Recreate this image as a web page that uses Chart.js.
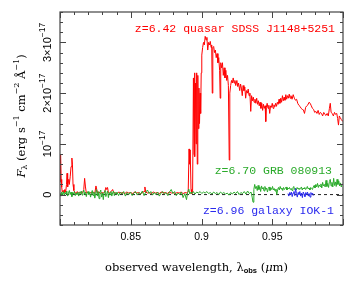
<!DOCTYPE html>
<html>
<head>
<meta charset="utf-8">
<script src="https://cdn.jsdelivr.net/npm/chart.js@4/dist/chart.umd.min.js"></script>
<style>
  html, body { margin: 0; padding: 0; background: #fff; }
  canvas { display: block; }
</style>
</head>
<body>
<canvas id="spectra" width="356" height="285"></canvas>
<script>
// ========== DATA (flux in units of 1e-17 erg s^-1 cm^-2 A^-1) ==========

// z=6.42 quasar SDSS J1148+5251
const qsoLambda = [
  0.8000, 0.8004, 0.8008, 0.8012, 0.8016, 0.8022, 0.8028, 0.8034, 0.8040, 0.8046,
  0.8050, 0.8054, 0.8058, 0.8062, 0.8066, 0.8072, 0.8078, 0.8084, 0.8088, 0.8092,
  0.8098, 0.8106, 0.8114, 0.8122, 0.8130, 0.8140, 0.8150, 0.8160, 0.8168, 0.8174,
  0.8180, 0.8186, 0.8196, 0.8206, 0.8216, 0.8226, 0.8236, 0.8246, 0.8254, 0.8260,
  0.8266, 0.8276, 0.8286, 0.8296, 0.8306, 0.8316, 0.8324, 0.8330, 0.8336, 0.8342,
  0.8350, 0.8362, 0.8372, 0.8380, 0.8392, 0.8404, 0.8416, 0.8430, 0.8444, 0.8458,
  0.8472, 0.8486, 0.8500, 0.8514, 0.8528, 0.8542, 0.8556, 0.8570, 0.8584, 0.8594,
  0.8600, 0.8606, 0.8618, 0.8632, 0.8646, 0.8660, 0.8674, 0.8688, 0.8702, 0.8716,
  0.8730, 0.8744, 0.8758, 0.8772, 0.8786, 0.8800, 0.8814, 0.8828, 0.8842, 0.8856,
  0.8870, 0.8884, 0.8898, 0.8906, 0.8912, 0.8916, 0.8920, 0.8926, 0.8930, 0.8937,
  0.8943, 0.8947, 0.8950, 0.8954, 0.8958, 0.8962, 0.8966, 0.8970, 0.8974, 0.8978,
  0.8982, 0.8986, 0.8990, 0.8994, 0.8998, 0.9002, 0.9008, 0.9014, 0.9020, 0.9026,
  0.9032, 0.9038, 0.9044, 0.9050, 0.9056, 0.9062, 0.9068, 0.9072, 0.9076, 0.9080,
  0.9086, 0.9092, 0.9098, 0.9104, 0.9110, 0.9116, 0.9122, 0.9128, 0.9132, 0.9136,
  0.9142, 0.9148, 0.9154, 0.9160, 0.9166, 0.9172, 0.9178, 0.9184, 0.9190, 0.9196,
  0.9200, 0.9206, 0.9212, 0.9218, 0.9224, 0.9230, 0.9236, 0.9242, 0.9250, 0.9256,
  0.9262, 0.9270, 0.9276, 0.9282, 0.9288, 0.9294, 0.9300, 0.9306, 0.9312, 0.9318,
  0.9324, 0.9330, 0.9336, 0.9342, 0.9348, 0.9354, 0.9360, 0.9366, 0.9372, 0.9378,
  0.9384, 0.9390, 0.9396, 0.9402, 0.9408, 0.9414, 0.9420, 0.9426, 0.9432, 0.9438,
  0.9444, 0.9450, 0.9454, 0.9458, 0.9464, 0.9470, 0.9476, 0.9482, 0.9488, 0.9494,
  0.9500, 0.9506, 0.9512, 0.9518, 0.9524, 0.9530, 0.9536, 0.9542, 0.9548, 0.9554,
  0.9560, 0.9566, 0.9572, 0.9578, 0.9584, 0.9590, 0.9596, 0.9602, 0.9608, 0.9614,
  0.9620, 0.9626, 0.9632, 0.9640, 0.9648, 0.9656, 0.9664, 0.9672, 0.9680, 0.9688,
  0.9696, 0.9704, 0.9712, 0.9720, 0.9728, 0.9736, 0.9744, 0.9752, 0.9760, 0.9768,
  0.9776, 0.9784, 0.9792, 0.9800, 0.9808, 0.9816, 0.9824, 0.9832, 0.9840, 0.9848,
  0.9856, 0.9864, 0.9872, 0.9880, 0.9888, 0.9896, 0.9904, 0.9910, 0.9916, 0.9924,
  0.9932, 0.9940, 0.9948, 0.9956, 0.9962, 0.9968, 0.9974, 0.9980, 0.9988, 0.9996,
  1.0000
];
const qsoFlux = [
  0.25, 0.80, 0.30, 0.15, 0.05, 0.08, 0.03, 0.10, 0.05, 0.20,
  0.42, 0.15, 0.25, 0.30, 0.20, 0.35, 0.55, 0.72, 0.60, 0.20,
  0.08, 0.04, 0.02, 0.06, 0.03, 0.05, 0.02, 0.04, 0.10, 0.32,
  0.15, 0.03, 0.05, 0.02, 0.04, 0.03, 0.05, 0.02, 0.17, 0.10,
  0.03, 0.05, 0.02, 0.04, 0.03, 0.05, 0.14, 0.10, 0.14, 0.04,
  0.03, 0.06, 0.10, 0.04, 0.03, 0.02, 0.05, 0.03, 0.04, 0.02,
  0.05, 0.03, 0.04, 0.02, 0.05, 0.03, 0.04, 0.02, 0.04, 0.06,
  0.15, 0.05, 0.03, 0.04, 0.02, 0.05, 0.03, 0.04, 0.02, 0.05,
  0.03, 0.04, 0.02, 0.05, 0.03, 0.04, 0.02, 0.04, 0.03, 0.05,
  0.02, 0.04, 0.03, 0.05, 0.90, 0.60, 0.88, 0.10, 0.02, 0.03,
  2.30, 0.80, 2.40, 0.75, 2.20, 1.00, 2.40, 0.60, 2.35, 1.30,
  2.10, 1.40, 2.00, 1.60, 2.40, 2.75, 2.90, 3.00, 2.95, 3.12,
  3.05, 3.10, 2.85, 3.00, 2.95, 3.02, 2.90, 2.95, 2.00, 2.90,
  2.92, 2.80, 2.85, 2.70, 2.78, 2.60, 2.70, 2.45, 1.90, 2.60,
  2.50, 2.60, 2.35, 2.50, 2.30, 2.45, 2.25, 2.35, 2.15, 0.68,
  2.00, 2.15, 2.25, 2.20, 2.30, 2.20, 2.25, 2.15, 2.25, 2.13,
  2.20, 2.05, 2.18, 2.10, 1.95, 2.15, 2.05, 2.12, 1.90, 2.05,
  2.00, 2.08, 1.95, 2.00, 1.64, 1.95, 1.85, 1.92, 1.82, 1.88,
  1.80, 1.90, 1.78, 1.85, 1.75, 1.82, 1.70, 1.80, 1.66, 1.78,
  1.70, 1.75, 1.44, 1.72, 1.80, 1.70, 1.76, 1.60, 1.75, 1.72,
  1.80, 1.70, 1.77, 1.73, 1.80, 1.74, 1.82, 1.78, 1.88, 1.80,
  1.90, 1.82, 1.95, 1.85, 1.92, 1.86, 1.97, 1.88, 1.95, 1.90,
  1.98, 1.90, 1.95, 1.88, 1.97, 1.90, 1.86, 1.88, 1.80, 1.76,
  1.74, 1.70, 1.68, 1.67, 1.60, 1.72, 1.75, 1.77, 1.82, 1.80,
  1.75, 1.70, 1.68, 1.62, 1.64, 1.60, 1.66, 1.58, 1.62, 1.60,
  1.55, 1.62, 1.58, 1.56, 1.60, 1.55, 1.70, 1.80, 1.62, 1.60,
  1.55, 1.62, 1.58, 1.60, 1.50, 1.37, 1.55, 1.52, 1.48, 1.45,
  1.44
];

// z=6.70 GRB 080913
const grbLambda = [
  0.8000, 0.8006, 0.8012, 0.8018, 0.8024, 0.8030, 0.8036, 0.8042, 0.8048, 0.8054,
  0.8060, 0.8066, 0.8072, 0.8078, 0.8084, 0.8090, 0.8096, 0.8102, 0.8108, 0.8114,
  0.8120, 0.8126, 0.8132, 0.8138, 0.8144, 0.8150, 0.8156, 0.8162, 0.8168, 0.8174,
  0.8180, 0.8186, 0.8192, 0.8198, 0.8204, 0.8210, 0.8216, 0.8222, 0.8228, 0.8234,
  0.8240, 0.8246, 0.8252, 0.8258, 0.8264, 0.8270, 0.8276, 0.8282, 0.8288, 0.8294,
  0.8300, 0.8306, 0.8312, 0.8318, 0.8324, 0.8330, 0.8336, 0.8342, 0.8348, 0.8354,
  0.8360, 0.8366, 0.8372, 0.8378, 0.8384, 0.8390, 0.8396, 0.8402, 0.8414, 0.8426,
  0.8438, 0.8450, 0.8462, 0.8474, 0.8486, 0.8498, 0.8510, 0.8522, 0.8534, 0.8546,
  0.8558, 0.8570, 0.8582, 0.8594, 0.8606, 0.8618, 0.8630, 0.8642, 0.8654, 0.8666,
  0.8678, 0.8690, 0.8702, 0.8714, 0.8726, 0.8738, 0.8750, 0.8762, 0.8774, 0.8786,
  0.8798, 0.8810, 0.8822, 0.8834, 0.8846, 0.8858, 0.8870, 0.8882, 0.8894, 0.8902,
  0.8910, 0.8918, 0.8926, 0.8934, 0.8942, 0.8954, 0.8966, 0.8978, 0.8990, 0.9002,
  0.9014, 0.9026, 0.9038, 0.9050, 0.9062, 0.9074, 0.9086, 0.9098, 0.9110, 0.9122,
  0.9134, 0.9146, 0.9158, 0.9170, 0.9182, 0.9194, 0.9206, 0.9218, 0.9230, 0.9242,
  0.9254, 0.9266, 0.9278, 0.9290, 0.9302, 0.9314, 0.9326, 0.9338, 0.9350, 0.9358,
  0.9364, 0.9370, 0.9376, 0.9382, 0.9388, 0.9394, 0.9400, 0.9406, 0.9412, 0.9418,
  0.9424, 0.9430, 0.9436, 0.9442, 0.9448, 0.9454, 0.9460, 0.9466, 0.9472, 0.9478,
  0.9484, 0.9490, 0.9496, 0.9502, 0.9508, 0.9514, 0.9520, 0.9526, 0.9532, 0.9538,
  0.9544, 0.9550, 0.9556, 0.9562, 0.9568, 0.9574, 0.9580, 0.9586, 0.9592, 0.9598,
  0.9604, 0.9610, 0.9616, 0.9622, 0.9628, 0.9634, 0.9640, 0.9646, 0.9652, 0.9658,
  0.9664, 0.9670, 0.9676, 0.9682, 0.9688, 0.9694, 0.9700, 0.9706, 0.9712, 0.9718,
  0.9724, 0.9730, 0.9736, 0.9742, 0.9748, 0.9754, 0.9760, 0.9766, 0.9772, 0.9778,
  0.9784, 0.9790, 0.9796, 0.9802, 0.9808, 0.9814, 0.9820, 0.9826, 0.9832, 0.9838,
  0.9844, 0.9850, 0.9856, 0.9862, 0.9868, 0.9874, 0.9880, 0.9886, 0.9892, 0.9898,
  0.9904, 0.9910, 0.9916, 0.9922, 0.9928, 0.9934, 0.9940, 0.9946, 0.9952, 0.9958,
  0.9964, 0.9970, 0.9976, 0.9982, 0.9988, 0.9994, 1.0000
];
const grbFlux = [
  0.02, -0.03, 0.05, 0.00, 0.06, -0.02, 0.04, 0.01, 0.07, -0.03,
  0.03, 0.08, 0.00, 0.05, -0.04, 0.04, 0.01, 0.06, -0.02, 0.03,
  0.00, 0.05, -0.03, 0.04, 0.02, 0.07, -0.01, 0.04, 0.09, 0.01,
  0.05, -0.04, 0.03, 0.06, 0.00, 0.04, -0.05, 0.03, 0.08, -0.02,
  0.05, -0.07, 0.02, 0.10, -0.03, 0.06, -0.08, 0.04, 0.09, -0.05,
  0.03, -0.10, 0.05, 0.08, -0.04, 0.02, 0.07, -0.06, 0.04, 0.00,
  0.06, -0.03, 0.03, 0.07, -0.02, 0.04, 0.01, 0.05, -0.02, 0.05,
  0.01, 0.06, -0.03, 0.04, 0.00, 0.05, -0.02, 0.03, 0.06, -0.01,
  0.04, 0.01, 0.07, -0.02, 0.05, 0.09, 0.02, 0.06, -0.01, 0.04,
  0.00, 0.05, -0.03, 0.03, 0.06, 0.01, 0.04, -0.02, 0.05, 0.10,
  0.02, 0.06, -0.02, 0.03, 0.00, 0.05, -0.06, 0.02, -0.10, 0.04,
  0.11, 0.01, 0.05, 0.02, 0.06, 0.01, 0.05, 0.03, 0.06, 0.02,
  0.05, 0.03, 0.06, 0.02, 0.04, 0.01, 0.05, 0.02, 0.04, 0.00,
  0.05, 0.02, 0.04, 0.01, 0.03, -0.01, 0.04, 0.01, 0.05, 0.02,
  0.06, 0.00, 0.04, 0.02, 0.06, 0.01, 0.07, 0.02, 0.05, -0.05,
  -0.15, 0.10, 0.20, 0.12, 0.16, 0.08, 0.18, 0.10, 0.15, 0.06,
  0.17, 0.11, 0.14, 0.07, 0.16, 0.10, 0.13, 0.05, 0.12, 0.15,
  0.08, 0.13, 0.10, 0.16, 0.09, 0.12, 0.07, 0.11, 0.00, 0.10,
  0.14, 0.09, 0.16, 0.11, 0.13, 0.08, 0.14, 0.10, 0.12, 0.15,
  0.09, 0.13, 0.11, 0.14, 0.10, 0.12, 0.08, 0.13, 0.16, 0.10,
  0.12, 0.09, 0.14, 0.11, 0.13, 0.10, 0.12, 0.15, 0.09, 0.13,
  0.11, 0.14, 0.10, 0.12, 0.16, 0.11, 0.13, 0.09, 0.14, 0.12,
  0.10, 0.15, 0.18, 0.13, 0.20, 0.15, 0.22, 0.14, 0.19, 0.16,
  0.21, 0.13, 0.24, 0.17, 0.20, 0.15, 0.28, 0.16, 0.22, 0.14,
  0.26, 0.30, 0.17, 0.24, 0.15, 0.32, 0.18, 0.25, 0.16, 0.30,
  0.20, 0.27, 0.17, 0.23, 0.15, 0.21, 0.19
];

// z=6.96 galaxy IOK-1
const galLambda = [
  0.9611, 0.9617, 0.9623, 0.9629, 0.9635, 0.9641, 0.9647, 0.9653, 0.9659, 0.9665,
  0.9671, 0.9677, 0.9683, 0.9689, 0.9695, 0.9701, 0.9707, 0.9713, 0.9719, 0.9725,
  0.9731, 0.9737, 0.9743, 0.9749, 0.9755, 0.9761, 0.9767, 0.9773, 0.9779, 0.9785,
  0.9790
];
const galFlux = [
  0.02, -0.03, 0.04, 0.00, 0.05, -0.04, 0.03, 0.06, -0.02, 0.12,
  0.02, -0.05, 0.04, 0.00, 0.06, -0.03, 0.03, -0.06, 0.05, 0.01,
  -0.04, 0.04, 0.00, 0.05, -0.03, 0.02, -0.05, 0.04, 0.00, 0.03,
  -0.02
];

// zero level
const zeroLambda = [0.80, 1.00];
const zeroFlux = [0, 0];

// axes
const xRange = [0.80, 1.00];
const yRange = [-0.6, 3.6];
const xTickValues = [0.85, 0.90, 0.95];
const xTickLabels = ['0.85', '0.9', '0.95'];
const yTickValues = [0, 1, 2, 3];
const yTickLabels = [['0', ''], ['10', '\u221217'], ['2\u00d710', '\u221217'], ['3\u00d710', '\u221217']];

const seriesLabels = ['z=6.42 quasar SDSS J1148+5251', 'z=6.70 GRB 080913', 'z=6.96 galaxy IOK-1'];
const seriesColors = ['#ff0000', '#2aaa2a', '#2a2aee'];

// ========== HELPERS ==========

const toPoints = (xs, ys) => xs.map((x, i) => ({x: x, y: ys[i]}));

const SANS = "'Liberation Sans', Arial, sans-serif";
const SERIF = "'DejaVu Serif', serif";
const MONO = "'Liberation Mono', monospace";

// draws a row of text pieces; each piece has its own font and baseline shift
function drawPieces(ctx, pieces, cx, cy, rotate) {
    ctx.save();
    ctx.translate(cx, cy);
    if (rotate) ctx.rotate(-Math.PI / 2);
    ctx.textBaseline = 'middle';
    ctx.textAlign = 'left';
    let total = 0;
    pieces.forEach(p => { ctx.font = p.font; total += ctx.measureText(p.text).width; });
    let pos = -total / 2;
    pieces.forEach(p => {
        ctx.font = p.font;
        ctx.fillText(p.text, pos, p.dy || 0);
        pos += ctx.measureText(p.text).width;
    });
    ctx.restore();
}

// ========== FRAME, TICKS AND TEXT PLUGIN ==========

const framePlugin = {
    id: 'frame',
    afterDatasetsDraw(chart) {
        const {ctx, chartArea: a, scales: {x, y}} = chart;
        ctx.save();
        ctx.strokeStyle = '#444';
        ctx.lineWidth = 1.2;
        ctx.strokeRect(a.left, a.top, a.right - a.left, a.bottom - a.top);

        // inward ticks, minor every 0.01 / 0.2, major every 0.05 / 1
        ctx.lineWidth = 1;
        ctx.beginPath();
        for (let i = 0; i <= 20; i++) {
            const px = Math.round(x.getPixelForValue(0.80 + i * 0.01)) + 0.5;
            const len = i % 5 === 0 ? 6 : 3;
            ctx.moveTo(px, a.bottom); ctx.lineTo(px, a.bottom - len);
            ctx.moveTo(px, a.top); ctx.lineTo(px, a.top + len);
        }
        for (let i = -3; i <= 18; i++) {
            const py = Math.round(y.getPixelForValue(i * 0.2)) + 0.5;
            const len = i % 5 === 0 ? 6 : 3;
            ctx.moveTo(a.left, py); ctx.lineTo(a.left + len, py);
            ctx.moveTo(a.right, py); ctx.lineTo(a.right - len, py);
        }
        ctx.stroke();

        // tick labels
        ctx.fillStyle = '#000';
        ctx.font = '10.5px ' + SANS;
        ctx.textAlign = 'center';
        ctx.textBaseline = 'middle';
        xTickValues.forEach((v, i) => {
            ctx.fillText(xTickLabels[i], x.getPixelForValue(v), a.bottom + 12);
        });
        yTickValues.forEach((v, i) => {
            const [base, sup] = yTickLabels[i];
            drawPieces(ctx, [
                {text: base, font: '11px ' + SANS},
                {text: sup, font: '8.5px ' + SANS, dy: -5}
            ], a.left - 12, y.getPixelForValue(v), true);
        });

        // axis titles
        const cxPlot = (a.left + a.right) / 2;
        drawPieces(ctx, [
            {text: 'observed wavelength, \u03bb', font: '11.5px ' + SERIF},
            {text: 'obs', font: 'bold 7.5px ' + SANS, dy: 3},
            {text: ' (', font: '11.5px ' + SERIF},
            {text: '\u03bc', font: 'italic 11.5px ' + SERIF},
            {text: 'm)', font: '11.5px ' + SERIF}
        ], cxPlot - 5, a.bottom + 43, false);

        drawPieces(ctx, [
            {text: 'F', font: 'italic 11.5px ' + SERIF},
            {text: '\u03bb', font: '8px ' + SERIF, dy: 3},
            {text: ' (erg s', font: '11.5px ' + SERIF},
            {text: '\u22121', font: '8px ' + SERIF, dy: -5},
            {text: ' cm', font: '11.5px ' + SERIF},
            {text: '\u22122', font: '8px ' + SERIF, dy: -5},
            {text: ' \u00c5', font: '11.5px ' + SERIF},
            {text: '\u22121', font: '8px ' + SERIF, dy: -5},
            {text: ')', font: '11.5px ' + SERIF}
        ], 22, 116, true);

        // series annotations, right aligned inside the frame
        ctx.font = '11.5px ' + MONO;
        ctx.textAlign = 'right';
        ctx.textBaseline = 'middle';
        const labelPos = [[a.right - 8, 29], [a.right - 11, 171], [a.right - 9, 211]];
        seriesLabels.forEach((t, i) => {
            ctx.fillStyle = seriesColors[i];
            ctx.fillText(t, labelPos[i][0], labelPos[i][1]);
        });
        ctx.restore();
    }
};

// ========== CHART ==========

new Chart(document.getElementById('spectra'), {
    type: 'line',
    data: {
        datasets: [
            {label: seriesLabels[2], data: toPoints(galLambda, galFlux), borderColor: seriesColors[2]},
            {label: seriesLabels[1], data: toPoints(grbLambda, grbFlux), borderColor: seriesColors[1]},
            {label: seriesLabels[0], data: toPoints(qsoLambda, qsoFlux), borderColor: seriesColors[0]},
            {label: 'zero', data: toPoints(zeroLambda, zeroFlux), borderColor: '#222', borderDash: [3, 3]}
        ]
    },
    options: {
        responsive: false,
        animation: false,
        devicePixelRatio: 1,
        layout: {padding: {left: 60, top: 12, right: 13, bottom: 60}},
        scales: {
            x: {type: 'linear', min: xRange[0], max: xRange[1], display: false},
            y: {type: 'linear', min: yRange[0], max: yRange[1], display: false}
        },
        elements: {
            point: {radius: 0},
            line: {borderWidth: 1, tension: 0}
        },
        plugins: {
            legend: {display: false},
            tooltip: {enabled: false}
        }
    },
    plugins: [framePlugin]
});
</script>
</body>
</html>
